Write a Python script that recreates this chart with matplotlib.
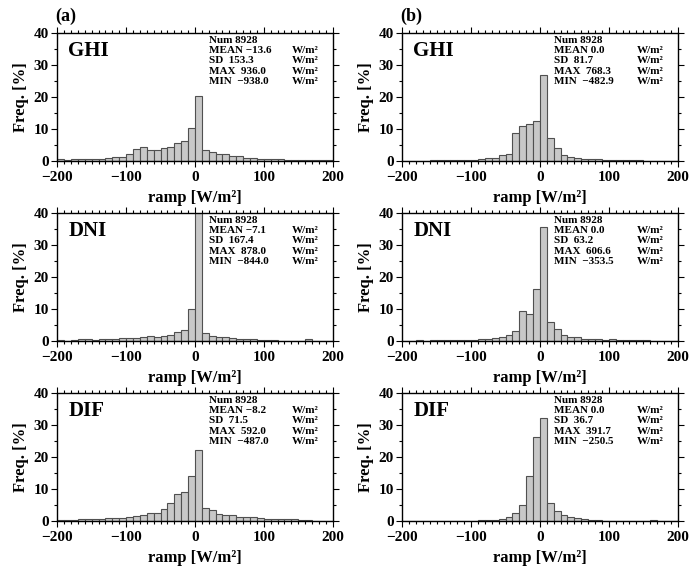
import matplotlib
matplotlib.use("Agg")
import matplotlib.pyplot as plt
import numpy as np

plt.rcParams['font.family'] = ['Liberation Serif', 'DejaVu Serif']
plt.rcParams['font.weight'] = 'bold'
plt.rcParams['axes.labelweight'] = 'bold'

# bin left edges, 10 W/m2 wide
bins = np.arange(-200, 200, 10)

# (a) GHI
ghi_a = [0.5, 0.3, 0.6, 0.6, 0.6, 0.7, 0.7, 1.0, 1.4, 1.4,
         2.3, 3.9, 4.4, 3.6, 3.6, 4.2, 4.5, 5.6, 6.4, 10.4,
         20.5, 3.3, 2.8, 2.1, 2.1, 1.7, 1.5, 1.1, 0.9, 0.7,
         0.6, 0.6, 0.6, 0.4, 0.4, 0.4, 0.3, 0.2, 0.4, 0.2]
# (b) GHI
ghi_b = [0.0, 0.0, 0.0, 0.0, 0.2, 0.2, 0.2, 0.2, 0.2, 0.3,
         0.4, 0.7, 1.0, 1.1, 1.8, 2.3, 8.8, 10.9, 11.6, 12.5,
         27.0, 7.2, 4.1, 2.0, 1.4, 1.1, 0.7, 0.6, 0.6, 0.3,
         0.2, 0.2, 0.2, 0.2, 0.2, 0.0, 0.0, 0.0, 0.0, 0.0]
# (a) DNI
dni_a = [0.4, 0.1, 0.2, 0.6, 0.5, 0.2, 0.7, 0.5, 0.7, 1.0,
         0.9, 1.0, 1.4, 1.5, 1.4, 1.7, 2.0, 2.7, 3.3, 9.9,
         45.0, 2.4, 1.5, 1.3, 1.1, 0.8, 0.5, 0.5, 0.5, 0.3,
         0.3, 0.3, 0.1, 0.1, 0.1, 0.1, 0.5, 0.1, 0.1, 0.1]
# (b) DNI
dni_b = [0.0, 0.0, 0.2, 0.0, 0.2, 0.2, 0.2, 0.2, 0.3, 0.3,
         0.3, 0.6, 0.6, 0.9, 1.4, 2.0, 3.2, 9.4, 8.6, 16.4,
         35.8, 6.1, 3.8, 2.0, 1.4, 1.1, 0.7, 0.6, 0.6, 0.2,
         0.5, 0.2, 0.2, 0.2, 0.2, 0.2, 0.0, 0.0, 0.0, 0.0]
# (a) DIF
dif_a = [0.2, 0.2, 0.2, 0.5, 0.5, 0.5, 0.5, 0.8, 1.0, 1.0,
         1.4, 1.7, 1.8, 2.4, 2.4, 3.6, 5.5, 8.4, 9.2, 14.2,
         22.2, 4.2, 3.3, 2.3, 1.8, 1.8, 1.1, 1.4, 1.1, 0.9,
         0.6, 0.5, 0.5, 0.5, 0.5, 0.2, 0.2, 0.0, 0.0, 0.0]
# (b) DIF
dif_b = [0.0, 0.0, 0.0, 0.0, 0.0, 0.0, 0.0, 0.0, 0.0, 0.0,
         0.0, 0.2, 0.4, 0.4, 0.6, 1.4, 2.4, 5.0, 14.1, 26.2,
         32.3, 5.5, 3.2, 1.9, 1.4, 1.0, 0.6, 0.4, 0.3, 0.0,
         0.0, 0.0, 0.0, 0.0, 0.0, 0.0, 0.3, 0.0, 0.0, 0.0]

names = ['GHI', 'DNI', 'DIF']
series_a = [ghi_a, dni_a, dif_a]
series_b = [ghi_b, dni_b, dif_b]

stats_a = [['Num 8928', 'MEAN \u221213.6', 'SD  153.3', 'MAX  936.0', 'MIN  \u2212938.0'],
           ['Num 8928', 'MEAN \u22127.1', 'SD  167.4', 'MAX  878.0', 'MIN  \u2212844.0'],
           ['Num 8928', 'MEAN \u22128.2', 'SD  71.5', 'MAX  592.0', 'MIN  \u2212487.0']]
stats_b = [['Num 8928', 'MEAN 0.0', 'SD  81.7', 'MAX  768.3', 'MIN  \u2212482.9'],
           ['Num 8928', 'MEAN 0.0', 'SD  63.2', 'MAX  606.6', 'MIN  \u2212353.5'],
           ['Num 8928', 'MEAN 0.0', 'SD  36.7', 'MAX  391.7', 'MIN  \u2212250.5']]

fig = plt.figure(figsize=(6.9, 5.71), dpi=100)

lefts = [0.083, 0.583]
bottoms = [0.718, 0.4028, 0.0876]
w, h = 0.399, 0.2236


def draw(ax, vals, name, stats):
    ax.bar(bins, vals, width=10, align='edge', color='#c8c8c8',
           edgecolor='#505050', linewidth=0.8)
    ax.set_xlim(-200, 200)
    ax.set_ylim(0, 40)
    ax.set_xticks([-200, -100, 0, 100, 200])
    ax.set_xticks(np.arange(-200, 201, 10), minor=True)
    ax.set_yticks([0, 10, 20, 30, 40])
    ax.set_yticks(np.arange(0, 41, 5), minor=True)
    ax.tick_params(which='both', direction='out', top=True, right=True,
                   labelsize=11, width=0.8)
    ax.tick_params(which='major', length=4)
    ax.tick_params(which='minor', length=2)
    ax.tick_params(axis='x', which='major', pad=3.5)
    ax.tick_params(axis='y', which='major', pad=2)
    for s in ax.spines.values():
        s.set_linewidth(1.0)
    ax.set_xlabel('ramp [W/m\u00b2]', fontsize=12, labelpad=4)
    ax.set_ylabel('Freq. [%]', fontsize=12, labelpad=3)
    ax.text(0.04, 0.86, name, transform=ax.transAxes, fontsize=15,
            fontweight='bold', va='center')
    for i, line in enumerate(stats):
        y = 0.944 - i * 0.08
        ax.text(0.55, y, line, transform=ax.transAxes, fontsize=8,
                fontweight='bold', va='center')
        if i > 0:
            ax.text(0.852, y, 'W/m\u00b2', transform=ax.transAxes,
                    fontsize=8, fontweight='bold', va='center')


for r in range(3):
    ax = fig.add_axes([lefts[0], bottoms[r], w, h])
    draw(ax, series_a[r], names[r], stats_a[r])
    ax = fig.add_axes([lefts[1], bottoms[r], w, h])
    draw(ax, series_b[r], names[r], stats_b[r])

fig.text(0.08, 0.972, '(a)', fontsize=13, fontweight='bold', va='center')
fig.text(0.58, 0.972, '(b)', fontsize=13, fontweight='bold', va='center')

fig.savefig('out.png', dpi=100)
